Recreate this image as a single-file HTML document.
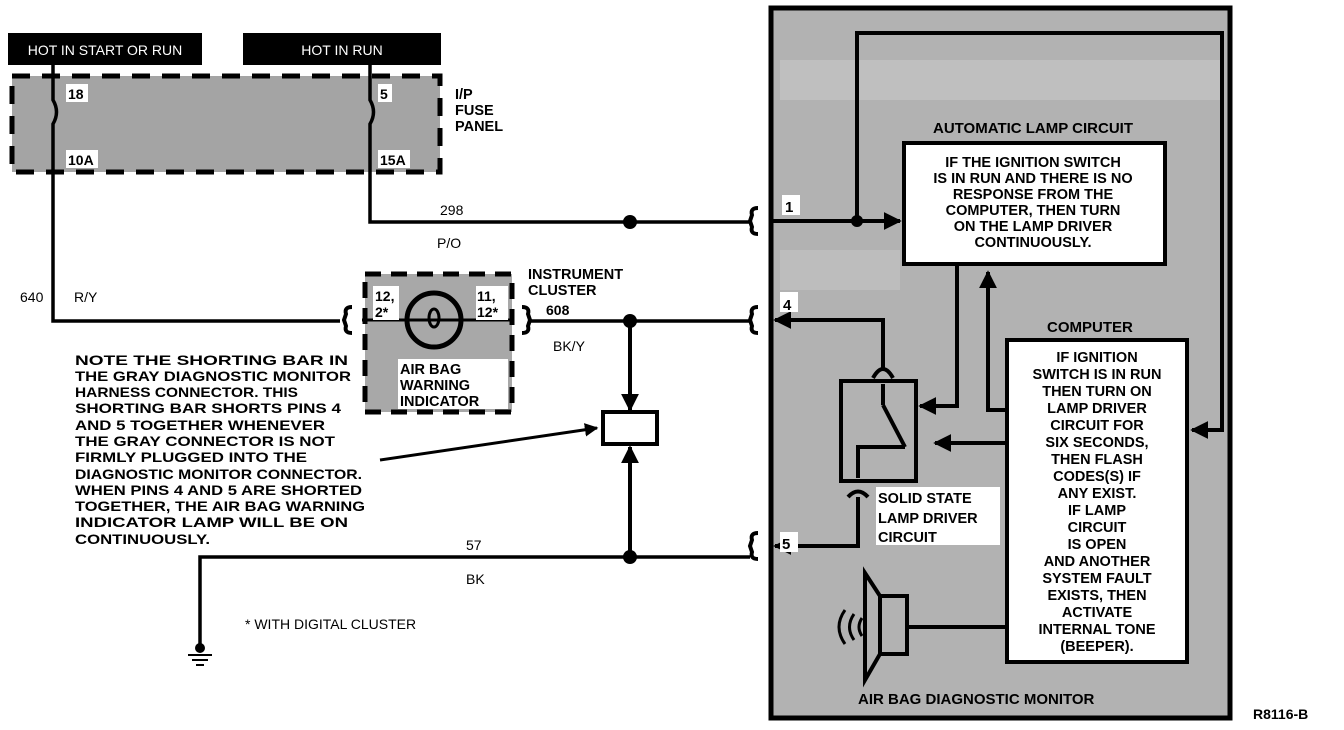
<!DOCTYPE html>
<html><head><meta charset="utf-8"><style>
html,body{margin:0;padding:0;background:#fff}
svg{display:block}
text{font-family:"Liberation Sans",Arial,sans-serif;font-weight:bold;fill:#000}
</style></head><body>
<svg width="1344" height="730" viewBox="0 0 1344 730" xmlns="http://www.w3.org/2000/svg">
<defs>
<marker id="ar" viewBox="0 0 10 10" refX="9" refY="5" markerWidth="4.5" markerHeight="4.5" orient="auto"><path d="M0,0L10,5L0,10z" fill="#000"/></marker>
</defs>
<rect x="771" y="8" width="459" height="710" fill="#b2b2b2" stroke="#000" stroke-width="5"/>
<rect x="780" y="60" width="440" height="40" fill="#c8c8c8" opacity="0.6"/>
<rect x="780" y="250" width="120" height="40" fill="#c8c8c8" opacity="0.5"/>
<polyline points="857,218 857,33 1222,33 1222,430 1192,430" fill="none" stroke="#000" stroke-width="4" marker-end="url(#ar)"/>
<line x1="772" y1="221" x2="900" y2="221" stroke="#000" stroke-width="4" marker-end="url(#ar)"/>
<circle cx="857" cy="221" r="6"/>
<rect x="782" y="195" width="18" height="20" fill="#fff"/>
<text x="785" y="212" font-size="15">1</text>
<text x="1033" y="133" font-size="15" text-anchor="middle">AUTOMATIC LAMP CIRCUIT</text>
<rect x="904" y="143" width="261" height="121" fill="#fff" stroke="#000" stroke-width="4"/>
<g font-size="14.5" text-anchor="middle">
<text x="1033" y="167">IF THE IGNITION SWITCH</text>
<text x="1033" y="183">IS IN RUN AND THERE IS NO</text>
<text x="1033" y="199">RESPONSE FROM THE</text>
<text x="1033" y="215">COMPUTER, THEN TURN</text>
<text x="1033" y="231">ON THE LAMP DRIVER</text>
<text x="1033" y="247">CONTINUOUSLY.</text>
</g>
<text x="1047" y="332" font-size="15">COMPUTER</text>
<rect x="1007" y="340" width="180" height="322" fill="#fff" stroke="#000" stroke-width="4"/>
<g font-size="14.5" text-anchor="middle">
<text x="1097" y="362">IF IGNITION</text>
<text x="1097" y="379">SWITCH IS IN RUN</text>
<text x="1097" y="396">THEN TURN ON</text>
<text x="1097" y="413">LAMP DRIVER</text>
<text x="1097" y="430">CIRCUIT FOR</text>
<text x="1097" y="447">SIX SECONDS,</text>
<text x="1097" y="464">THEN FLASH</text>
<text x="1097" y="481">CODES(S) IF</text>
<text x="1097" y="498">ANY EXIST.</text>
<text x="1097" y="515">IF LAMP</text>
<text x="1097" y="532">CIRCUIT</text>
<text x="1097" y="549">IS OPEN</text>
<text x="1097" y="566">AND ANOTHER</text>
<text x="1097" y="583">SYSTEM FAULT</text>
<text x="1097" y="600">EXISTS, THEN</text>
<text x="1097" y="617">ACTIVATE</text>
<text x="1097" y="634">INTERNAL TONE</text>
<text x="1097" y="651">(BEEPER).</text>
</g>
<rect x="841" y="381" width="75" height="100" fill="none" stroke="#000" stroke-width="4"/>
<polyline points="883,370 883,320 775,320" fill="none" stroke="#000" stroke-width="4" marker-end="url(#ar)"/>
<path d="M873,378 Q883,360 893,378" fill="none" stroke="#000" stroke-width="4"/>
<line x1="883" y1="384" x2="883" y2="405" stroke="#000" stroke-width="4"/>
<line x1="883" y1="405" x2="905" y2="447" stroke="#000" stroke-width="4"/>
<polyline points="905,447 858,447 858,478" fill="none" stroke="#000" stroke-width="4"/>
<polyline points="957,264 957,406 920,406" fill="none" stroke="#000" stroke-width="4" marker-end="url(#ar)"/>
<polyline points="1007,410 988,410 988,272" fill="none" stroke="#000" stroke-width="4" marker-end="url(#ar)"/>
<line x1="1007" y1="443" x2="935" y2="443" stroke="#000" stroke-width="4" marker-end="url(#ar)"/>
<path d="M848,497 Q858,486 868,497" fill="none" stroke="#000" stroke-width="4"/>
<polyline points="858,497 858,546 775,546" fill="none" stroke="#000" stroke-width="4" marker-end="url(#ar)"/>
<rect x="876" y="487" width="124" height="58" fill="#fff"/>
<g font-size="14.5"><text x="878" y="503">SOLID STATE</text><text x="878" y="523">LAMP DRIVER</text><text x="878" y="542">CIRCUIT</text></g>
<rect x="780" y="292" width="18" height="20" fill="#fff"/><text x="783" y="310" font-size="15">4</text>
<rect x="780" y="532" width="18" height="20" fill="#fff"/><text x="782" y="549" font-size="15">5</text>
<rect x="880" y="596" width="27" height="58" fill="none" stroke="#000" stroke-width="4"/>
<polygon points="865,573 880,596 880,654 865,680" fill="none" stroke="#000" stroke-width="4"/>
<line x1="907" y1="627" x2="1007" y2="627" stroke="#000" stroke-width="4"/>
<path d="M845,610 Q833,627 845,644" fill="none" stroke="#000" stroke-width="3"/>
<path d="M854,614 Q845,627 854,640" fill="none" stroke="#000" stroke-width="3"/>
<path d="M862,618 Q856,627 862,636" fill="none" stroke="#000" stroke-width="3"/>
<text x="858" y="704" font-size="15">AIR BAG DIAGNOSTIC MONITOR</text>
<text x="1253" y="719" font-size="14">R8116-B</text>
<rect x="8" y="33" width="194" height="32" fill="#000"/>
<rect x="243" y="33" width="198" height="32" fill="#000"/>
<text x="105" y="55" font-size="14" text-anchor="middle" style="fill:#fff;font-weight:normal">HOT IN START OR RUN</text>
<text x="342" y="55" font-size="14" text-anchor="middle" style="fill:#fff;font-weight:normal">HOT IN RUN</text>
<rect x="12" y="76" width="428" height="96" fill="#a4a4a4" stroke="#000" stroke-width="5" stroke-dasharray="18,12"/>
<path d="M53,65 V100 Q60,112 53,124 V321 H340" fill="none" stroke="#000" stroke-width="3.5"/>
<path d="M370,65 V100 Q377,112 370,124 V222 H750" fill="none" stroke="#000" stroke-width="3.5"/>
<rect x="66" y="84" width="22" height="18" fill="#fff"/><text x="68" y="99" font-size="14">18</text>
<rect x="66" y="150" width="32" height="18" fill="#fff"/><text x="68" y="165" font-size="14">10A</text>
<rect x="378" y="84" width="14" height="18" fill="#fff"/><text x="380" y="99" font-size="14">5</text>
<rect x="378" y="150" width="32" height="18" fill="#fff"/><text x="380" y="165" font-size="14">15A</text>
<g font-size="14.5"><text x="455" y="99">I/P</text><text x="455" y="115">FUSE</text><text x="455" y="131">PANEL</text></g>
<path d="M758,208 Q750,208 752,215 L750,221 L752,227 Q750,234 758,234" fill="none" stroke="#000" stroke-width="4"/>
<path d="M758,307 Q750,307 752,314 L750,320 L752,326 Q750,333 758,333" fill="none" stroke="#000" stroke-width="4"/>
<path d="M758,533 Q750,533 752,540 L750,546 L752,552 Q750,559 758,559" fill="none" stroke="#000" stroke-width="4"/>
<circle cx="630" cy="222" r="7"/>
<text x="440" y="215" font-size="14" style="font-weight:normal">298</text>
<text x="437" y="248" font-size="14" style="font-weight:normal">P/O</text>
<text x="20" y="302" font-size="14" style="font-weight:normal">640</text>
<text x="74" y="302" font-size="14" style="font-weight:normal">R/Y</text>
<rect x="365" y="274" width="147" height="138" fill="#a8a8a8" stroke="#000" stroke-width="5" stroke-dasharray="16,10"/>
<path d="M352,307 Q344,307 346,314 L344,320 L346,326 Q344,333 352,333" fill="none" stroke="#000" stroke-width="4"/>
<path d="M522,307 Q530,307 528,314 L530,320 L528,326 Q530,333 522,333" fill="none" stroke="#000" stroke-width="4"/>
<line x1="362" y1="320" x2="512" y2="320" stroke="#000" stroke-width="3"/>
<circle cx="434" cy="320" r="27" fill="none" stroke="#000" stroke-width="5"/>
<ellipse cx="434" cy="318" rx="5" ry="9" fill="none" stroke="#000" stroke-width="3"/>
<rect x="373" y="286" width="26" height="34" fill="#fff"/><text x="375" y="301" font-size="14">12,</text><text x="375" y="317" font-size="14">2*</text>
<rect x="476" y="286" width="32" height="34" fill="#fff"/><text x="477" y="301" font-size="14">11,</text><text x="477" y="317" font-size="14">12*</text>
<rect x="398" y="359" width="110" height="50" fill="#fff"/>
<g font-size="14.5"><text x="400" y="374">AIR BAG</text><text x="400" y="390">WARNING</text><text x="400" y="406">INDICATOR</text></g>
<g font-size="14.5"><text x="528" y="279">INSTRUMENT</text><text x="528" y="295">CLUSTER</text></g>
<line x1="530" y1="321" x2="750" y2="321" stroke="#000" stroke-width="3.5"/>
<text x="546" y="315" font-size="14">608</text>
<text x="553" y="351" font-size="14" style="font-weight:normal">BK/Y</text>
<circle cx="630" cy="321" r="7"/>
<line x1="630" y1="321" x2="630" y2="410" stroke="#000" stroke-width="4" marker-end="url(#ar)"/>
<rect x="603" y="412" width="54" height="32" fill="#fff" stroke="#000" stroke-width="4"/>
<line x1="630" y1="557" x2="630" y2="447" stroke="#000" stroke-width="4" marker-end="url(#ar)"/>
<circle cx="630" cy="557" r="7"/>
<polyline points="750,557 200,557 200,648" fill="none" stroke="#000" stroke-width="3.5"/>
<circle cx="200" cy="648" r="5"/>
<line x1="188" y1="655" x2="212" y2="655" stroke="#000" stroke-width="2"/>
<line x1="192" y1="660" x2="208" y2="660" stroke="#000" stroke-width="2"/>
<line x1="196" y1="665" x2="204" y2="665" stroke="#000" stroke-width="2"/>
<text x="466" y="550" font-size="14" style="font-weight:normal">57</text>
<text x="466" y="584" font-size="14" style="font-weight:normal">BK</text>
<text x="245" y="629" font-size="14" style="font-weight:normal">* WITH DIGITAL CLUSTER</text>
<line x1="380" y1="460" x2="597" y2="428" stroke="#000" stroke-width="3" marker-end="url(#ar)"/>
<g font-size="14">
<text x="75" y="365" textLength="273" lengthAdjust="spacingAndGlyphs">NOTE THE SHORTING BAR IN</text>
<text x="75" y="381" textLength="276" lengthAdjust="spacingAndGlyphs">THE GRAY DIAGNOSTIC MONITOR</text>
<text x="75" y="397" textLength="223" lengthAdjust="spacingAndGlyphs">HARNESS CONNECTOR. THIS</text>
<text x="75" y="413" textLength="266" lengthAdjust="spacingAndGlyphs">SHORTING BAR SHORTS PINS 4</text>
<text x="75" y="430" textLength="250" lengthAdjust="spacingAndGlyphs">AND 5 TOGETHER WHENEVER</text>
<text x="75" y="446" textLength="260" lengthAdjust="spacingAndGlyphs">THE GRAY CONNECTOR IS NOT</text>
<text x="75" y="462" textLength="232" lengthAdjust="spacingAndGlyphs">FIRMLY PLUGGED INTO THE</text>
<text x="75" y="479" textLength="287" lengthAdjust="spacingAndGlyphs">DIAGNOSTIC MONITOR CONNECTOR.</text>
<text x="75" y="495" textLength="287" lengthAdjust="spacingAndGlyphs">WHEN PINS 4 AND 5 ARE SHORTED</text>
<text x="75" y="511" textLength="290" lengthAdjust="spacingAndGlyphs">TOGETHER, THE AIR BAG WARNING</text>
<text x="75" y="527" textLength="273" lengthAdjust="spacingAndGlyphs">INDICATOR LAMP WILL BE ON</text>
<text x="75" y="544" textLength="135" lengthAdjust="spacingAndGlyphs">CONTINUOUSLY.</text>
</g>
</svg>
</body></html>
